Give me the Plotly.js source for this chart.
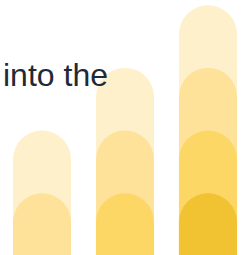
<!DOCTYPE html>
<html>
<head>
<meta charset="utf-8">
<script src="https://cdn.plot.ly/plotly-3.0.1.min.js"></script>
<style>
html,body{margin:0;padding:0;background:#fff;}
#chart{width:248px;height:255px;}
</style>
</head>
<body>
<div id="chart"></div>
<script>
const categories = ["A", "B", "C"];
const level4 = [2, 3, 4];
const level3 = [1, 2, 3];
const level2 = [null, 1, 2];
const level1 = [null, null, 1];
const labelText = "into the";

const colors = ["#FFF0CC", "#FEE29A", "#FDD766", "#F1C232"];
const series = [level4, level3, level2, level1];
const yNames = ["y", "y2", "y3", "y4"];

const traces = series.map((vals, i) => ({
  type: "bar",
  x: categories,
  y: vals,
  yaxis: yNames[i],
  width: 0.7,
  marker: { color: colors[i], cornerradius: "50%", line: { width: 0 } },
  hoverinfo: "skip",
  showlegend: false
}));

const yRange = [0.016, 4.083];
const layout = {
  width: 248,
  height: 255,
  margin: { l: 0, r: 0, t: 0, b: 0, pad: 0 },
  paper_bgcolor: "#ffffff",
  plot_bgcolor: "#ffffff",
  barmode: "overlay",
  xaxis: { range: [-0.506, 2.482], visible: false, fixedrange: true },
  yaxis: { range: yRange, visible: false, fixedrange: true },
  yaxis2: { range: yRange, visible: false, fixedrange: true, overlaying: "y" },
  yaxis3: { range: yRange, visible: false, fixedrange: true, overlaying: "y" },
  yaxis4: { range: yRange, visible: false, fixedrange: true, overlaying: "y" },
  annotations: [{
    text: labelText,
    xref: "paper", yref: "paper",
    x: 1 / 248, y: 1 - 75 / 255,
    xanchor: "left", yanchor: "middle",
    showarrow: false,
    font: { family: "Liberation Sans, Arial, sans-serif", size: 32, color: "#1F2937" }
  }]
};

Plotly.newPlot("chart", traces, layout, { staticPlot: true, displayModeBar: false });
</script>
</body>
</html>
